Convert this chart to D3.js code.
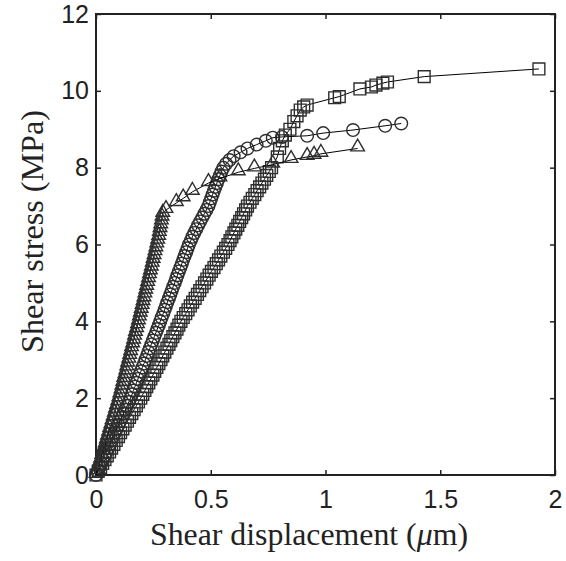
<!DOCTYPE html>
<html>
<head>
<meta charset="utf-8">
<script src="https://cdn.jsdelivr.net/npm/d3@7"></script>
<style>
  body { margin: 0; background: #fff; }
  #chart text { fill: #222; }
</style>
</head>
<body>
<div id="chart"></div>
<script>

// tick values + labels
var xTicks = [0, 0.5, 1, 1.5, 2];
var xTickLabels = ["0", "0.5", "1", "1.5", "2"];
var yTicks = [0, 2, 4, 6, 8, 10, 12];
var yTickLabels = ["0", "2", "4", "6", "8", "10", "12"];

// triangle series
var triX = [0, 0.005, 0.01, 0.015, 0.02, 0.025, 0.03, 0.035, 0.04, 0.045, 0.05,
  0.055, 0.06, 0.065, 0.07, 0.075, 0.08, 0.085, 0.09, 0.095, 0.10,
  0.104, 0.109, 0.113, 0.117, 0.121, 0.126, 0.130, 0.134, 0.138, 0.143,
  0.147, 0.151, 0.155, 0.160, 0.164, 0.168, 0.172, 0.177, 0.181, 0.185,
  0.189, 0.193, 0.197, 0.201, 0.205, 0.209, 0.213, 0.217, 0.221, 0.225,
  0.229, 0.233, 0.237, 0.241, 0.245, 0.249, 0.253, 0.257, 0.261, 0.265,
  0.269, 0.273, 0.276, 0.279, 0.282, 0.285, 0.288, 0.291,
  0.305, 0.35, 0.38, 0.42, 0.49, 0.54, 0.62, 0.69, 0.77, 0.85, 0.92, 0.95, 0.98, 1.14];
var triY = [0, 0.1, 0.2, 0.3, 0.4, 0.5, 0.6, 0.7, 0.8, 0.9, 1.0,
  1.1, 1.2, 1.3, 1.4, 1.5, 1.6, 1.7, 1.8, 1.9, 2.0,
  2.1, 2.2, 2.3, 2.4, 2.5, 2.6, 2.7, 2.8, 2.9, 3.0,
  3.1, 3.2, 3.3, 3.4, 3.5, 3.6, 3.7, 3.8, 3.9, 4.0,
  4.1, 4.2, 4.3, 4.4, 4.5, 4.6, 4.7, 4.8, 4.9, 5.0,
  5.1, 5.2, 5.3, 5.4, 5.5, 5.6, 5.7, 5.8, 5.9, 6.0,
  6.1, 6.2, 6.3, 6.4, 6.5, 6.6, 6.7, 6.8,
  6.9, 7.08, 7.2, 7.37, 7.6, 7.72, 7.88, 7.98, 8.08, 8.2, 8.28, 8.31, 8.36, 8.5];

// circle series
var cirX = [0, 0.008, 0.015, 0.023, 0.03, 0.038, 0.045, 0.053, 0.06, 0.068, 0.075,
  0.083, 0.09, 0.098, 0.105, 0.113, 0.12, 0.128, 0.135, 0.143, 0.15,
  0.157, 0.163, 0.170, 0.176, 0.183, 0.189, 0.196, 0.202, 0.209, 0.215,
  0.222, 0.228, 0.235, 0.241, 0.248, 0.254, 0.261, 0.267, 0.274, 0.28,
  0.286, 0.293, 0.299, 0.305, 0.311, 0.318, 0.324, 0.33, 0.336, 0.343,
  0.349, 0.355, 0.361, 0.368, 0.374, 0.38, 0.386, 0.393, 0.399, 0.405,
  0.413, 0.42, 0.428, 0.437, 0.445, 0.454, 0.463, 0.472, 0.481, 0.49,
  0.496, 0.502, 0.508, 0.514, 0.52, 0.527, 0.533, 0.54, 0.547, 0.555,
  0.567, 0.582, 0.60, 0.63, 0.66, 0.70, 0.74, 0.77, 0.81, 0.92, 0.99, 1.12, 1.26, 1.33];
var cirY = [0, 0.1, 0.2, 0.3, 0.4, 0.5, 0.6, 0.7, 0.8, 0.9, 1.0,
  1.1, 1.2, 1.3, 1.4, 1.5, 1.6, 1.7, 1.8, 1.9, 2.0,
  2.1, 2.2, 2.3, 2.4, 2.5, 2.6, 2.7, 2.8, 2.9, 3.0,
  3.1, 3.2, 3.3, 3.4, 3.5, 3.6, 3.7, 3.8, 3.9, 4.0,
  4.1, 4.2, 4.3, 4.4, 4.5, 4.6, 4.7, 4.8, 4.9, 5.0,
  5.1, 5.2, 5.3, 5.4, 5.5, 5.6, 5.7, 5.8, 5.9, 6.0,
  6.1, 6.2, 6.3, 6.4, 6.5, 6.6, 6.7, 6.8, 6.9, 7.0,
  7.1, 7.2, 7.3, 7.4, 7.5, 7.6, 7.7, 7.8, 7.9, 8.0,
  8.1, 8.2, 8.3, 8.4, 8.5, 8.6, 8.7, 8.78, 8.8, 8.83, 8.9, 8.98, 9.09, 9.15];

// square series
var sqX = [0, 0.01, 0.02, 0.029, 0.039, 0.049, 0.059, 0.068, 0.078, 0.088, 0.098,
  0.107, 0.117, 0.127, 0.137, 0.146, 0.156, 0.166, 0.176, 0.185, 0.195,
  0.204, 0.213, 0.221, 0.23, 0.239, 0.248, 0.256, 0.265, 0.274, 0.283,
  0.291, 0.3, 0.309, 0.318, 0.326, 0.335, 0.344, 0.353, 0.361, 0.37,
  0.38, 0.391, 0.401, 0.411, 0.421, 0.432, 0.442, 0.452, 0.462, 0.473,
  0.483, 0.493, 0.503, 0.514, 0.524, 0.534, 0.544, 0.555, 0.565, 0.575,
  0.584, 0.592, 0.601, 0.609, 0.618, 0.626, 0.635, 0.643, 0.652, 0.66,
  0.671, 0.681, 0.692, 0.702, 0.713, 0.723, 0.734, 0.744, 0.755, 0.765,
  0.79, 0.80, 0.812, 0.825, 0.845, 0.862, 0.876, 0.89, 0.905, 0.92,
  1.04, 1.06, 1.15, 1.2, 1.22, 1.25, 1.27, 1.43, 1.93];
var sqY = [0, 0.1, 0.2, 0.3, 0.4, 0.5, 0.6, 0.7, 0.8, 0.9, 1.0,
  1.1, 1.2, 1.3, 1.4, 1.5, 1.6, 1.7, 1.8, 1.9, 2.0,
  2.1, 2.2, 2.3, 2.4, 2.5, 2.6, 2.7, 2.8, 2.9, 3.0,
  3.1, 3.2, 3.3, 3.4, 3.5, 3.6, 3.7, 3.8, 3.9, 4.0,
  4.1, 4.2, 4.3, 4.4, 4.5, 4.6, 4.7, 4.8, 4.9, 5.0,
  5.1, 5.2, 5.3, 5.4, 5.5, 5.6, 5.7, 5.8, 5.9, 6.0,
  6.1, 6.2, 6.3, 6.4, 6.5, 6.6, 6.7, 6.8, 6.9, 7.0,
  7.1, 7.2, 7.3, 7.4, 7.5, 7.6, 7.7, 7.8, 7.9, 8.0,
  8.28, 8.5, 8.7, 8.85, 9.0, 9.2, 9.35, 9.5, 9.58, 9.63,
  9.82, 9.85, 10.05, 10.1, 10.15, 10.2, 10.23, 10.37, 10.57];

var width = 566, height = 561;
// plot box edges (px)
var boxLeft = 96, boxRight = 555, boxTop = 14, boxBottom = 475;
var markerColor = "#2e2e2e";

function Plot() {
  var svg = d3.select("#chart").append("svg")
    .attr("width", width)
    .attr("height", height);

  var x = d3.scaleLinear().domain([0, 2]).range([boxLeft, boxRight]);
  var y = d3.scaleLinear().domain([0, 12]).range([boxBottom, boxTop]);

  // ticks, pointing inward on all 4 sides
  svg.append("g")
    .attr("transform", "translate(0," + boxBottom + ")")
    .call(d3.axisBottom(x).tickValues(xTicks).tickSizeInner(-5).tickSizeOuter(0).tickPadding(15)
      .tickFormat(function (d, i) { return xTickLabels[i]; }));
  svg.append("g")
    .attr("transform", "translate(" + boxLeft + ",0)")
    .call(d3.axisLeft(y).tickValues(yTicks).tickSizeInner(-5).tickSizeOuter(0).tickPadding(7)
      .tickFormat(function (d, i) { return yTickLabels[i]; }));
  svg.append("g")
    .attr("transform", "translate(0," + boxTop + ")")
    .call(d3.axisTop(x).tickValues(xTicks).tickSizeInner(-5).tickSizeOuter(0).tickFormat(""));
  svg.append("g")
    .attr("transform", "translate(" + boxRight + ",0)")
    .call(d3.axisRight(y).tickValues(yTicks).tickSizeInner(-5).tickSizeOuter(0).tickFormat(""));

  svg.selectAll(".domain").remove();
  svg.selectAll(".tick line").attr("stroke", "#222").attr("stroke-width", 1.5);
  svg.selectAll(".tick text")
    .style("font-family", "'Liberation Sans', Arial, sans-serif")
    .style("font-size", "25px")
    .attr("fill", "#222");

  svg.append("rect")
    .attr("x", boxLeft).attr("y", boxTop)
    .attr("width", boxRight - boxLeft).attr("height", boxBottom - boxTop)
    .attr("fill", "none")
    .attr("stroke", "#222")
    .attr("stroke-width", 2);

  var series = [
    { xs: sqX, ys: sqY, shape: "square" },
    { xs: cirX, ys: cirY, shape: "circle" },
    { xs: triX, ys: triY, shape: "triangle" }
  ];

  var line = d3.line()
    .x(function (d) { return x(d[0]); })
    .y(function (d) { return y(d[1]); });

  var symbols = {
    square: d3.symbol().type(d3.symbolSquare).size(140),
    circle: d3.symbol().type(d3.symbolCircle).size(125),
    triangle: d3.symbol().type(d3.symbolTriangle).size(80)
  };

  series.forEach(function (s) {
    var pts = s.xs.map(function (v, i) { return [v, s.ys[i]]; });
    var g = svg.append("g");

    g.append("path")
      .datum(pts)
      .attr("d", line)
      .attr("fill", "none")
      .attr("stroke", "#000")
      .attr("stroke-width", 1);

    g.selectAll("path.mk")
      .data(pts)
      .enter().append("path")
      .attr("class", "mk")
      .attr("d", symbols[s.shape])
      .attr("transform", function (d) {
        // triangle centroid sits low, nudge up a bit
        var dy = s.shape == "triangle" ? -1.5 : 0;
        return "translate(" + x(d[0]) + "," + (y(d[1]) + dy) + ")";
      })
      .attr("fill", "none")
      .attr("stroke", markerColor)
      .attr("stroke-width", 1.4);
  });

  // axis titles
  var xt = svg.append("text")
    .attr("x", 150)
    .attr("y", 545)
    .attr("textLength", 318)
    .attr("lengthAdjust", "spacingAndGlyphs")
    .style("font-family", "'Liberation Serif', 'DejaVu Serif', serif")
    .style("font-size", "31px");
  xt.append("tspan").text("Shear displacement (");
  xt.append("tspan").style("font-style", "italic").text("μ");
  xt.append("tspan").text("m)");

  svg.append("text")
    .attr("transform", "translate(43,353) rotate(-90)")
    .attr("textLength", 243)
    .attr("lengthAdjust", "spacingAndGlyphs")
    .style("font-family", "'Liberation Serif', 'DejaVu Serif', serif")
    .style("font-size", "31px")
    .text("Shear stress (MPa)");
}

Plot();
</script>
</body>
</html>
